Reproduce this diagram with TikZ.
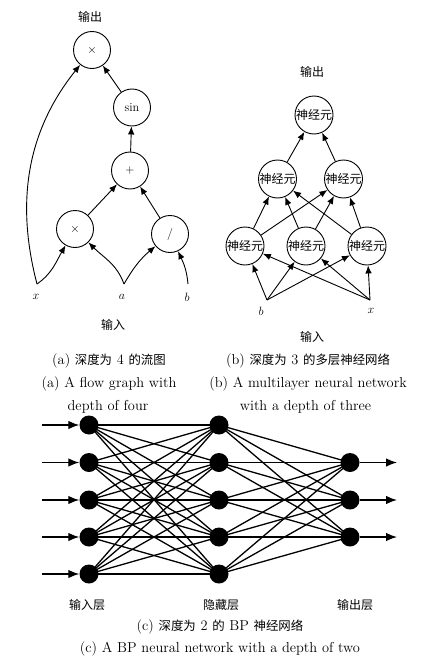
\documentclass[tikz,border=0pt]{standalone}
\usepackage{fontspec}
\newfontfamily\cjk{Noto Sans CJK SC}
\usetikzlibrary{arrows.meta}
\newcommand\cn[1]{{\cjk\fontsize{12.4}{14}\selectfont #1}}
\begin{document}
\begin{tikzpicture}[x=1pt,y=1pt,
  op/.style={circle,draw,line width=0.9pt,minimum size=37pt,inner sep=0pt,font=\fontsize{12.2}{14}\selectfont},
  neu/.style={circle,draw,line width=0.9pt,minimum size=38pt,inner sep=0pt,font=\cjk\fontsize{12}{14}\selectfont},
  arr/.style={-{Latex[length=8pt,width=6.5pt]},line width=0.9pt},
  dot/.style={circle,fill=black,minimum size=19pt,inner sep=0pt},
  conn/.style={line width=1.3pt},
  arrc/.style={-{Latex[length=11pt,width=8.5pt]},line width=1.3pt},
  zh/.style={font=\cjk\fontsize{12}{14}\selectfont},
  captext/.style={font=\fontsize{14.4}{17}\selectfont,inner sep=0pt},
  lbl/.style={font=\fontsize{13}{15}\selectfont,inner sep=0pt}
]
\useasboundingbox (0,0) rectangle (423,-661);
% ---------- (a) flow graph ----------
\node[zh] (outa) at (90,-17) {输出};
\node[op] (top) at (92,-50) {$\times$};
\node[op] (sin) at (132,-107.5) {sin};
\node[op] (plus) at (130,-170.5) {$+$};
\node[op] (mul) at (75,-229) {$\times$};
\node[op] (div) at (170,-234) {$/$};
\coordinate (xa) at (37,-284);
\coordinate (aa) at (124,-284);
\coordinate (ba) at (188,-284);
\node[lbl] (xal) at (36,-297) {$x$};
\node[lbl] (aal) at (122,-297) {$a$};
\node[lbl] (bal) at (187,-297) {$b$};
\node[zh] (ina) at (113,-325) {输入};
\draw[arr] (sin) -- (top);
\draw[arr] (plus) -- (sin);
\draw[arr] (mul) -- (plus);
\draw[arr] (div) -- (plus);
\draw[arr] (xa) .. controls (15,-200) and (28,-130) .. (top);
\draw[arr] (xa) to[out=35,in=-120] (mul);
\draw[arr] (aa) to[out=110,in=-45] (mul);
\draw[arr] (aa) to[out=60,in=-140] (div);
\draw[arr] (ba) to[out=95,in=-65] (div);
% ---------- (b) neural network ----------
\node[zh] (outb) at (312,-72) {输出};
\node[neu] (n3) at (314,-115) {神经元};
\node[neu] (n21) at (277.5,-179) {神经元};
\node[neu] (n22) at (343.5,-179) {神经元};
\node[neu] (n11) at (245,-246) {神经元};
\node[neu] (n12) at (306,-246) {神经元};
\node[neu] (n13) at (367,-246) {神经元};
\coordinate (bb) at (267,-300);
\coordinate (xb) at (370,-300);
\node[lbl] (bbl) at (261,-311) {$b$};
\node[lbl] (xbl) at (371,-311) {$x$};
\node[zh] (inb) at (312,-337) {输入};
\foreach \s in {bb,xb}{\foreach \t in {n11,n12,n13}{\draw[arr] (\s) -- (\t);}}
\foreach \s in {n11,n12,n13}{\foreach \t in {n21,n22}{\draw[arr] (\s) -- (\t);}}
\draw[arr] (n21) -- (n3);
\draw[arr] (n22) -- (n3);
% ---------- captions (a),(b) ----------
\node[captext] (capa1) at (109,-361) {(a) \cn{深度为} 4 \cn{的流图}};
\node[captext] (capb1) at (308,-361) {(b) \cn{深度为} 3 \cn{的多层神经网络}};
\node[captext] (capa2) at (109,-384) {(a) A flow graph with};
\node[captext] (capa3) at (108,-407) {depth of four};
\node[captext] (capb2) at (308,-384) {(b) A multilayer neural network};
\node[captext] (capb3) at (305.5,-407) {with a depth of three};
% ---------- (c) BP network ----------
\foreach \i/\y in {1/425,2/462.5,3/500,4/537,5/574}{
  \node[dot] (i\i) at (89,-\y) {};
  \node[dot] (h\i) at (219,-\y) {};
  \coordinate (s\i) at (42,-\y);
  \draw[arrc] (s\i) -- (i\i);
}
\foreach \i/\y in {1/462.5,2/500,3/537}{
  \node[dot] (o\i) at (350,-\y) {};
  \coordinate (e\i) at (397,-\y);
  \draw[arrc] (o\i) -- (e\i);
}
\foreach \a in {1,...,5}{\foreach \b in {1,...,5}{\draw[conn] (i\a.center) -- (h\b.center);}}
\foreach \a in {1,...,5}{\foreach \b in {1,2,3}{\draw[conn] (h\a.center) -- (o\b.center);}}
\node[zh] (lin) at (87,-605) {输入层};
\node[zh] (lhid) at (221,-605) {隐藏层};
\node[zh] (lout) at (355,-605) {输出层};
\node[captext] (capc1) at (220,-627) {(c) \cn{深度为} 2 \cn{的} BP \cn{神经网络}};
\node[captext] (capc2) at (220,-649) {(c) A BP neural network with a depth of two};
\end{tikzpicture}
\end{document}
